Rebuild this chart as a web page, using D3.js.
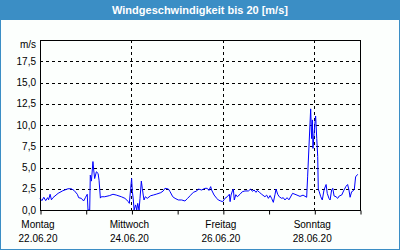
<!DOCTYPE html>
<html>
<head>
<meta charset="utf-8">
<script src="https://cdn.jsdelivr.net/npm/d3@7"></script>
<style>
  body { margin: 0; background: #fcfffd; }
  svg { display: block; font-family: "Liberation Sans", Arial, sans-serif; }
</style>
</head>
<body>
<div id="chart"></div>
<script>
// Messwerte: Stunden ab Montag 22.06.20 00:00 und Windgeschwindigkeit in m/s
const stunden = [0, 1, 2, 3, 4, 4.5, 5.3, 6, 6.8, 9.5, 12, 14.7, 16.4, 17.9, 19.6, 20.3, 21.7, 22.9, 23.8, 24.3,
  24.8, 25.2, 26.1, 26.4, 27, 27.8, 28.2, 28.7, 29.6, 30.5, 31, 31.7, 32.2, 34, 36.6, 38.3, 40, 42.7, 44.6, 46.4,
  46.9, 47.6, 48.1, 48.5, 49, 49.4, 50.2, 50.8, 51.3, 52, 52.5, 53.2, 53.7, 54.2, 54.6, 55.3, 56.3, 58.1, 59.5, 61.3,
  63.4, 64.7, 65.6, 67.4, 68.3, 69.7, 70.9, 72.6, 74.4, 76.1, 77.5, 78.8, 80.5, 82.3, 83.1, 84.9, 86.6, 87.8, 88.7, 89.6,
  90.1, 91.4, 92.8, 93.6, 94.9, 95.9, 97.1, 98.3, 99.4, 99.8, 100.3, 101, 101.5, 102, 102.8, 103.6, 105, 106.2, 107.6, 109.4,
  110.6, 111.5, 112.4, 113.4, 114.1, 115.1, 116.4, 118.1, 119, 119.9, 120.8, 121.6, 122.5, 123.4, 123.9, 124.8, 125.6, 126.9, 127.7, 128.6,
  129.7, 130.7, 132.6, 134.4, 136.5, 138.1, 140, 140.5, 142.1, 142.6, 143, 143.3, 143.9, 144.4, 144.7, 144.9, 145.3, 145.8, 146.1, 146.6,
  147.4, 148.2, 149.1, 150.2, 150.8, 151.7, 152.3, 153.1, 153.7, 154.4, 155.4, 156.3, 157.1, 158.4, 159.6, 160.7, 161.5, 162.2, 162.8, 163.6,
  164.5, 165, 165.7, 166.8];
const wind = [1.37, 1.1, 1.5, 1.1, 1.45, 1.2, 1.85, 1.2, 1.45, 1.96, 2.27, 2.5, 2.5, 2.3, 1.85, 1.45, 1.37, 1.06, 1.45, 1.65,
  1.85, 0, 0, 4.1, 3.4, 5.7, 4.7, 3.7, 4.5, 4.3, 3.5, 1.4, 1.56, 1.56, 1.7, 1.85, 1.76, 1.56, 1.37, 0.98,
  0.78, 2.55, 3.7, 2.15, 1.18, 0, 0.6, 0, 0.78, 0, 1.37, 3.4, 2.55, 1.76, 1.18, 1.56, 1.37, 1.68, 1.76, 1.88,
  2.04, 2.24, 2.55, 2.47, 2.15, 1.56, 1.37, 1.18, 1.18, 1.06, 1.37, 1.68, 2.08, 2.24, 2.47, 2.35, 2.55, 2.55, 2.3, 2.75,
  2.35, 1.76, 1.37, 1.18, 1.06, 0.98, 1.37, 1.56, 1.85, 0.98, 1.76, 2.24, 2.47, 1.18, 1.8, 1.56, 1.85, 2.15, 2.24, 2.24,
  2.47, 2.2, 2.35, 2.08, 2.3, 2.1, 1.85, 1.56, 1.75, 1.37, 1.7, 1.37, 0.9, 1.85, 2.47, 1.85, 1.56, 1.37, 1.45, 1.18,
  1.45, 1.2, 1.96, 1.8, 1.6, 1.75, 1.5, 3.9, 11.9, 8.4, 10.6, 7.25, 9.0, 10.4, 11.06, 10.2, 8.4, 6.3, 2.43, 2.15,
  1.56, 1.18, 2.35, 3.0, 1.96, 1.37, 1.18, 2.35, 2.55, 1.65, 1.56, 1.37, 1.65, 1.76, 2.35, 2.8, 3.0, 2.35, 1.5, 2.15,
  2.27, 2.4, 3.9, 4.2];

const yTicks = [0, 2.5, 5, 7.5, 10, 12.5, 15, 17.5];
const wochentage = ["Montag", "Mittwoch", "Freitag", "Sonntag"];
const daten = ["22.06.20", "24.06.20", "26.06.20", "28.06.20"];
const titel = "Windgeschwindigkeit bis 20 [m/s]";

const ample = 400, alt = 250;
const blau = "#3b8ec5";
const rand = {oben: 40, unten: 40, links: 40, rechts: 40};

const start = new Date(2020, 5, 22);
const ende = new Date(2020, 5, 29);
const zeit = h => new Date(start.getTime() + h * 3600000);
const punkte = stunden.map((h, i) => ({t: zeit(h), v: wind[i]}));

const svg = d3.select("#chart").append("svg")
  .attr("width", ample)
  .attr("height", alt);

// Rahmen und Titelleiste
svg.append("rect")
  .attr("x", 0.5).attr("y", 0.5)
  .attr("width", ample - 1).attr("height", alt - 1)
  .attr("fill", "#fcfffd").attr("stroke", blau);
svg.append("rect")
  .attr("x", 0).attr("y", 0)
  .attr("width", ample).attr("height", 20)
  .attr("fill", blau);
svg.append("text")
  .attr("x", ample / 2).attr("y", 14)
  .attr("text-anchor", "middle")
  .attr("fill", "white")
  .attr("font-weight", "bold")
  .attr("font-size", "11px")
  .text(titel);

const x = d3.scaleTime()
  .domain([start, ende])
  .range([rand.links, ample - rand.rechts]);
const y = d3.scaleLinear()
  .domain([0, 20])
  .range([alt - rand.unten, rand.oben]);

const komma = d3.formatLocale({decimal: ",", thousands: ".", grouping: [3], currency: ["", "€"]}).format(".1f");

// Tage: jeder Tag bekommt einen Strich, jeder zweite eine Beschriftung
const alleTage = d3.timeDay.range(start, d3.timeDay.offset(ende, 1));
const hauptTage = alleTage.filter((d, i) => i % 2 === 0 && d < ende);

// Hilfslinien
svg.append("g")
  .selectAll("line")
  .data(yTicks.filter(d => d > 0))
  .join("line")
  .attr("x1", x.range()[0]).attr("x2", x.range()[1])
  .attr("y1", d => Math.round(y(d)) + 0.5).attr("y2", d => Math.round(y(d)) + 0.5)
  .attr("stroke", "black").attr("stroke-dasharray", "3,3");

svg.append("g")
  .selectAll("line")
  .data(hauptTage.slice(1))
  .join("line")
  .attr("x1", d => Math.round(x(d)) + 0.5).attr("x2", d => Math.round(x(d)) + 0.5)
  .attr("y1", y(20)).attr("y2", y(0))
  .attr("stroke", "black").attr("stroke-dasharray", "3,3");

// Messkurve
const linie = d3.line()
  .x(d => x(d.t))
  .y(d => y(d.v));
svg.append("path")
  .datum(punkte)
  .attr("d", linie)
  .attr("fill", "none")
  .attr("stroke", "#0000ff")
  .attr("stroke-width", 1);

// Diagrammrahmen
svg.append("rect")
  .attr("x", rand.links + 0.5).attr("y", rand.oben + 0.5)
  .attr("width", x.range()[1] - x.range()[0]).attr("height", y(0) - y(20))
  .attr("fill", "none").attr("stroke", "black");

// X-Achse: Striche pro Tag
svg.append("g")
  .attr("transform", `translate(0.5, ${y(0) + 0.5})`)
  .call(d3.axisBottom(x).tickValues(alleTage).tickSize(4).tickFormat(""))
  .call(g => g.select(".domain").remove());

svg.append("g")
  .selectAll("text")
  .data(hauptTage)
  .join("text")
  .attr("x", d => x(d) - 2).attr("y", 228)
  .attr("text-anchor", "middle").attr("font-size", "10px")
  .text((d, i) => wochentage[i]);
svg.append("g")
  .selectAll("text")
  .data(hauptTage)
  .join("text")
  .attr("x", d => x(d) - 2).attr("y", 242)
  .attr("text-anchor", "middle").attr("font-size", "10px")
  .text((d, i) => daten[i]);

// Y-Achse Beschriftung
svg.append("g")
  .selectAll("text")
  .data(yTicks)
  .join("text")
  .attr("x", 36).attr("y", d => y(d))
  .attr("dy", "0.35em")
  .attr("text-anchor", "end").attr("font-size", "10px")
  .text(d => komma(d));
svg.append("text")
  .attr("x", 36).attr("y", 48)
  .attr("text-anchor", "end").attr("font-size", "10px")
  .text("m/s");
</script>
</body>
</html>
